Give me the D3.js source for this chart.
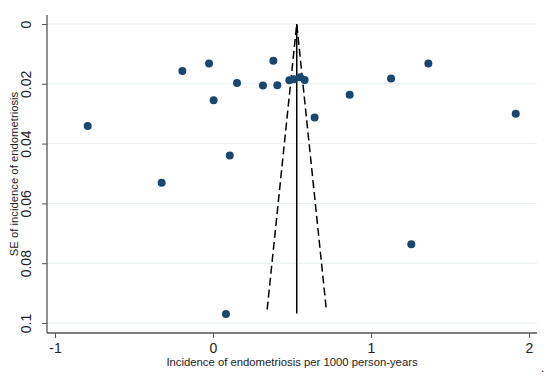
<!DOCTYPE html>
<html>
<head>
<meta charset="utf-8">
<script src="https://cdn.jsdelivr.net/npm/d3@7"></script>
<style>
  body { margin: 0; background: #fff; }
  text { font-family: "Liberation Sans", Arial, sans-serif; }
</style>
</head>
<body>
<div id="chart"></div>
<script>
// Chart size
const width = 550;
const height = 379;

// Study estimates: incidence per 1000 person-years and its SE
const incidence = [-0.793, -0.325, -0.194, -0.025, 0.004, 0.082, 0.106, 0.152, 0.316, 0.382, 0.407,
                   0.483, 0.513, 0.551, 0.580, 0.643, 0.865, 1.127, 1.255, 1.363, 1.916];
const seValues = [0.0341, 0.0531, 0.0157, 0.0132, 0.0255, 0.0970, 0.0440, 0.0197, 0.0206, 0.0123, 0.0205,
                  0.0188, 0.0185, 0.0178, 0.0187, 0.0313, 0.0237, 0.0182, 0.0737, 0.0132, 0.0300];

// Pooled estimate and pseudo 95% limits
const pooled = 0.53;
const funnelMaxSE = 0.0968;

const xTicks = [-1, 0, 1, 2];
const yTicks = [0, 0.02, 0.04, 0.06, 0.08, 0.1];

const margin = { top: 15, right: 13, bottom: 46, left: 47 };

const svg = d3.select('#chart')
    .append('svg')
    .attr('width', width)
    .attr('height', height);

const x = d3.scaleLinear()
    .domain([-1, 2])
    .range([55, 529]);

const y = d3.scaleLinear()
    .domain([0, 0.1])
    .range([24, 323]);

const plotLeft = margin.left;
const plotRight = width - margin.right;
const plotBottom = height - margin.bottom;

// Gridlines
svg.append('g')
    .selectAll('line')
    .data(yTicks)
    .enter()
    .append('line')
    .attr('x1', plotLeft)
    .attr('x2', plotRight)
    .attr('y1', d => y(d))
    .attr('y2', d => y(d))
    .style('stroke', '#e6eff1')
    .style('stroke-width', 1);

// Y axis
const yAxis = svg.append('g')
    .attr('transform', `translate(${plotLeft},0)`)
    .call(d3.axisLeft(y).tickValues(yTicks).tickSize(5).tickFormat(d => d === 0.1 ? '0.1' : d3.format('.2~f')(d)));
yAxis.select('.domain').attr('d', `M0,${margin.top}V${plotBottom}`).style('stroke', '#555').style('stroke-width', 1.3);
yAxis.selectAll('.tick line').style('stroke', '#555');
yAxis.selectAll('.tick text')
    .attr('x', 0)
    .attr('dy', 0)
    .attr('transform', 'translate(-16,0) rotate(-90)')
    .style('text-anchor', 'middle')
    .style('font-size', '14px')
    .style('fill', '#222');

// X axis
const xAxis = svg.append('g')
    .attr('transform', `translate(0,${plotBottom})`)
    .call(d3.axisBottom(x).tickValues(xTicks).tickSize(5).tickFormat(d3.format('d')));
xAxis.select('.domain').attr('d', `M${plotLeft},0H${plotRight}`).style('stroke', '#555').style('stroke-width', 1.3);
xAxis.selectAll('.tick line').style('stroke', '#555');
xAxis.selectAll('.tick text')
    .attr('y', 10)
    .attr('dy', '0.71em')
    .style('font-size', '14px')
    .style('fill', '#222')
    .text(d => d < 0 ? '-' + Math.abs(d) : d);

// Funnel lines
const seLine = d3.line()
    .x(d => x(d[0]))
    .y(d => y(d[1]));

svg.append('path')
    .attr('d', seLine([[pooled, 0], [pooled, funnelMaxSE]]))
    .style('stroke', '#000')
    .style('stroke-width', 1.5)
    .style('fill', 'none');

const limitSE = 0.0955;
svg.append('path')
    .attr('d', seLine([[pooled - 1.96 * limitSE, limitSE], [pooled, 0], [pooled + 1.96 * limitSE, limitSE]]))
    .style('stroke', '#000')
    .style('stroke-width', 1.5)
    .style('stroke-dasharray', '8,4')
    .style('fill', 'none');

// Study points
svg.append('g')
    .selectAll('circle')
    .data(incidence.map((v, i) => [v, seValues[i]]))
    .enter()
    .append('circle')
    .attr('cx', d => x(d[0]))
    .attr('cy', d => y(d[1]))
    .attr('r', 4)
    .style('fill', '#1a476f');

// Axis titles
svg.append('text')
    .attr('x', 292)
    .attr('y', 366)
    .attr('text-anchor', 'middle')
    .style('font-size', '11.3px')
    .style('fill', '#222')
    .text('Incidence of endometriosis per 1000 person-years');

svg.append('text')
    .attr('transform', `translate(18,${(margin.top + plotBottom) / 2}) rotate(-90)`)
    .attr('text-anchor', 'middle')
    .style('font-size', '11.3px')
    .style('fill', '#222')
    .text('SE of incidence of endometriosis');

svg.append('text')
    .attr('x', 541)
    .attr('y', 372)
    .style('font-size', '12px')
    .style('fill', '#222')
    .text('.');
</script>
</body>
</html>
